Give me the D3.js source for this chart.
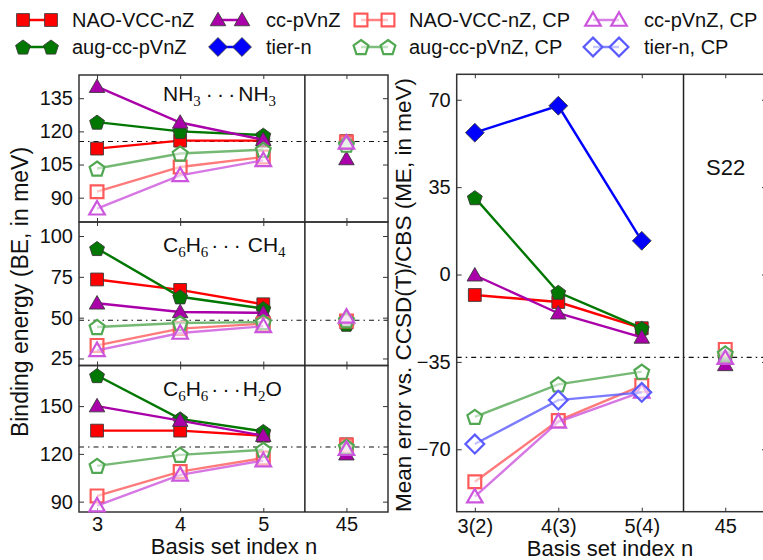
<!DOCTYPE html>
<html><head><meta charset="utf-8">
<script src="https://cdn.jsdelivr.net/npm/d3@7"></script>
<style>body{margin:0;background:#fff}</style>
</head><body><svg id="c" width="763" height="560"></svg>
<script>
// ---------------- data ----------------
const leftCategories = ["3", "4", "5", "45"];
const rightCategories = ["3(2)", "4(3)", "5(4)", "45"];
const seriesNames = ["NAO-VCC-nZ", "aug-cc-pVnZ", "cc-pVnZ", "tier-n",
  "NAO-VCC-nZ, CP", "aug-cc-pVnZ, CP", "cc-pVnZ, CP", "tier-n, CP"];

// NH3···NH3 binding energies (meV)
const nh3Nao    = [112.2, 115.8, 115.8, 115.6];
const nh3Aug    = [124.2, 120.0, 118.3, 115.0];
const nh3Cc     = [140.2, 124.0, 116.2, 107.5];
const nh3NaoCP  = [92.7, 103.9, 108.4, 115.2];
const nh3AugCP  = [103.2, 110.0, 111.7, 114.0];
const nh3CcCP   = [85.0, 100.1, 106.9, 114.8];
const nh3Ref = 115.4;
const nh3Ticks = [90, 105, 120, 135];

// C6H6···CH4
const ch4Nao    = [73.4, 67.0, 58.2, 47.0];
const ch4Aug    = [92.4, 62.8, 55.6, 46.0];
const ch4Cc     = [58.8, 53.5, 53.0, 49.0];
const ch4NaoCP  = [33.0, 43.3, 46.3, 48.0];
const ch4AugCP  = [44.3, 46.7, 47.3, 48.5];
const ch4CcCP   = [30.0, 40.6, 44.7, 50.5];
const ch4Ref = 48.4;
const ch4Ticks = [25, 50, 75, 100];

// C6H6···H2O
const h2oNao    = [134.6, 134.6, 131.4, 126.0];
const h2oAug    = [169.2, 142.0, 134.1, 124.0];
const h2oCc     = [150.0, 140.9, 131.4, 119.8];
const h2oNaoCP  = [93.6, 108.9, 117.4, 125.5];
const h2oAugCP  = [112.5, 119.4, 122.6, 124.5];
const h2oCcCP   = [87.5, 106.8, 115.8, 123.0];
const h2oRef = 124.3;
const h2oTicks = [90, 120, 150];

// S22 mean errors (meV)
const s22Nao    = [-8.2, -11.0, -21.5, -33.5];
const s22Aug    = [30.8, -7.1, -21.5, -33.0];
const s22Cc     = [-0.3, -15.5, -25.2, -36.2];
const s22Tier   = [56.8, 67.6, 13.5, null];
const s22NaoCP  = [-83.0, -58.5, -44.5, -30.0];
const s22AugCP  = [-57.0, -44.0, -38.9, -31.6];
const s22CcCP   = [-89.0, -59.0, -47.0, -33.5];
const s22TierCP = [-67.9, -50.3, -47.2, null];
const s22Ref = -33.2;
const s22Ticks = [-70, -35, 0, 35, 70];

// ---------------- styles ----------------
const FONT = '"Liberation Sans", Arial, Helvetica, sans-serif';
const SERIF = '"Liberation Serif", "DejaVu Serif", serif';
const styles = {
  "NAO-VCC-nZ":       {color: "#ff0000", sym: "square",   open: false},
  "aug-cc-pVnZ":      {color: "#007700", sym: "pentagon", open: false},
  "cc-pVnZ":          {color: "#aa00aa", sym: "triangle", open: false},
  "tier-n":           {color: "#0000ff", sym: "diamond",  open: false},
  "NAO-VCC-nZ, CP":   {color: "#ff5a5a", sym: "square",   open: true},
  "aug-cc-pVnZ, CP":  {color: "#52a852", sym: "pentagon", open: true},
  "cc-pVnZ, CP":      {color: "#cc55dd", sym: "triangle", open: true},
  "tier-n, CP":       {color: "#5a5aff", sym: "diamond",  open: true}
};

function symPath(type) {
  const p = d3.path();
  if (type === "square") {
    const h = 6.4; p.rect(-h, -h, 2 * h, 2 * h);
  } else if (type === "triangle") {
    const w = 15.5, h = 13.5;
    p.moveTo(0, -h / 2 - 1); p.lineTo(w / 2, h / 2 - 1); p.lineTo(-w / 2, h / 2 - 1); p.closePath();
  } else if (type === "pentagon") {
    const r = 7.8;
    for (let k = 0; k < 5; k++) {
      const a = -Math.PI / 2 + k * 2 * Math.PI / 5;
      const px = r * Math.cos(a), py = r * Math.sin(a) + 0.8;
      if (k === 0) p.moveTo(px, py); else p.lineTo(px, py);
    }
    p.closePath();
  } else if (type === "diamond") {
    const h = 9.4;
    p.moveTo(0, -h); p.lineTo(h, 0); p.lineTo(0, h); p.lineTo(-h, 0); p.closePath();
  }
  return p.toString();
}

function drawMarker(g, name, x, y) {
  const st = styles[name];
  const m = g.append("path").attr("d", symPath(st.sym)).attr("transform", `translate(${x},${y})`);
  if (st.open) {
    m.attr("fill", "#fff").attr("fill-opacity", 0.55).attr("stroke", st.color).attr("stroke-width", 2.2);
  } else {
    m.attr("fill", st.color).attr("stroke", "#3a3a3a").attr("stroke-width", 0.9);
  }
}

const svg = d3.select("#c");

// ---------------- legend ----------------
const legendRows = [
  ["NAO-VCC-nZ", "cc-pVnZ", "NAO-VCC-nZ, CP", "cc-pVnZ, CP"],
  ["aug-cc-pVnZ", "tier-n", "aug-cc-pVnZ, CP", "tier-n, CP"]
];
const legM1 = [23, 218, 361, 593];
const legM2 = [51, 242, 388, 619];
const legTx = [72, 266, 409, 644];
const legY = [20, 47];
const lg = svg.append("g");
legendRows.forEach((row, r) => {
  row.forEach((name, c) => {
    const st = styles[name];
    lg.append("line").attr("x1", legM1[c]).attr("x2", legM2[c]).attr("y1", legY[r]).attr("y2", legY[r])
      .attr("stroke", st.color).attr("stroke-width", 2.5).attr("stroke-opacity", st.open ? 0.75 : 1);
    drawMarker(lg, name, legM1[c], legY[r]);
    drawMarker(lg, name, legM2[c], legY[r]);
    lg.append("text").attr("x", legTx[c]).attr("y", legY[r] + 7).attr("font-family", FONT)
      .attr("font-size", 20).attr("fill", "#111").text(name);
  });
});

// ---------------- panels ----------------
const L0 = 79, L1 = 388, R0 = 456.7, R1 = 767;
const DOTS = "\u00B7\u2009\u00B7\u2009\u00B7";
const panels = [
  {x0: L0, x1: L1, y0: 75, y1: 222, domain: [79, 145.5], ticks: nh3Ticks, cats: leftCategories, ref: nh3Ref,
   series: {"NAO-VCC-nZ": nh3Nao, "aug-cc-pVnZ": nh3Aug, "cc-pVnZ": nh3Cc,
            "NAO-VCC-nZ, CP": nh3NaoCP, "aug-cc-pVnZ, CP": nh3AugCP, "cc-pVnZ, CP": nh3CcCP},
   label: [["NH", 0, 0], ["3", 1, 0], [DOTS, 0, 5], ["NH", 0, 3], ["3", 1, 0]], labelX: 163, labelY: 101, showX: false},
  {x0: L0, x1: L1, y0: 222, y1: 365.5, domain: [20.7, 108.6], ticks: ch4Ticks, cats: leftCategories, ref: ch4Ref,
   series: {"NAO-VCC-nZ": ch4Nao, "aug-cc-pVnZ": ch4Aug, "cc-pVnZ": ch4Cc,
            "NAO-VCC-nZ, CP": ch4NaoCP, "aug-cc-pVnZ, CP": ch4AugCP, "cc-pVnZ, CP": ch4CcCP},
   label: [["C", 0, 0], ["6", 1, 0], ["H", 0, 0], ["6", 1, 0], [DOTS, 0, 3], ["CH", 0, 7], ["4", 1, 0]], labelX: 163, labelY: 252, showX: false},
  {x0: L0, x1: L1, y0: 365.5, y1: 512, domain: [83.5, 175.5], ticks: h2oTicks, cats: leftCategories, ref: h2oRef,
   series: {"NAO-VCC-nZ": h2oNao, "aug-cc-pVnZ": h2oAug, "cc-pVnZ": h2oCc,
            "NAO-VCC-nZ, CP": h2oNaoCP, "aug-cc-pVnZ, CP": h2oAugCP, "cc-pVnZ, CP": h2oCcCP},
   label: [["C", 0, 0], ["6", 1, 0], ["H", 0, 0], ["6", 1, 0], [DOTS, 0, 3], ["H", 0, 2], ["2", 1, 0], ["O", 0, 0]], labelX: 163, labelY: 396, showX: true, xlabBase: 531},
  {x0: R0, x1: R1, y0: 74.3, y1: 511.7, domain: [-95.0, 80.2], ticks: s22Ticks, cats: rightCategories, ref: s22Ref,
   series: {"NAO-VCC-nZ": s22Nao, "aug-cc-pVnZ": s22Aug, "cc-pVnZ": s22Cc, "tier-n": s22Tier,
            "NAO-VCC-nZ, CP": s22NaoCP, "aug-cc-pVnZ, CP": s22AugCP, "cc-pVnZ, CP": s22CcCP, "tier-n, CP": s22TierCP},
   label: [["S22", 0, 0]], labelX: 706, labelY: 175, labelSize: 22, showX: true, xlabBase: 533}
];

panels.forEach(P => {
  const g = svg.append("g");
  const x = d3.scaleLinear().domain([-0.217, 3.5]).range([P.x0, P.x1]);
  const y = d3.scaleLinear().domain(P.domain).range([P.y1, P.y0]);

  // reference dash-dot line
  g.append("line").attr("x1", P.x0).attr("x2", Math.min(P.x1, 763)).attr("y1", y(P.ref)).attr("y2", y(P.ref))
    .attr("stroke", "#111").attr("stroke-width", 1.1).attr("stroke-dasharray", "5,4,1.5,4");

  // axes (inside ticks)
  const ya = g.append("g").attr("transform", `translate(${P.x0},0)`)
    .call(d3.axisLeft(y).tickValues(P.ticks).tickSize(-5).tickPadding(6));
  const yr = g.append("g").attr("transform", `translate(${P.x1},0)`)
    .call(d3.axisRight(y).tickValues(P.ticks).tickSize(-5).tickFormat(""));
  const xb = g.append("g").attr("transform", `translate(0,${P.y1})`)
    .call(d3.axisBottom(x).tickValues([0, 1, 2, 3]).tickSize(-4).tickPadding(5)
      .tickFormat(i => P.showX ? P.cats[i] : ""));
  const xt = g.append("g").attr("transform", `translate(0,${P.y0})`)
    .call(d3.axisTop(x).tickValues([0, 1, 2, 3]).tickSize(-4).tickFormat(""));
  [ya, yr, xb, xt].forEach(a => {
    a.select(".domain").remove();
    a.selectAll("line").attr("stroke", "#333").attr("stroke-width", 1);
    a.selectAll("text").attr("font-family", FONT).attr("font-size", 20).attr("fill", "#111");
  });
  if (P.showX) xb.selectAll("text").attr("dy", null).attr("y", P.xlabBase - P.y1);

  // frame and divider
  g.append("rect").attr("x", P.x0).attr("y", P.y0).attr("width", P.x1 - P.x0).attr("height", P.y1 - P.y0)
    .attr("fill", "none").attr("stroke", "#333").attr("stroke-width", 1.5);
  g.append("line").attr("x1", x(2.5)).attr("x2", x(2.5)).attr("y1", P.y0).attr("y2", P.y1)
    .attr("stroke", "#222").attr("stroke-width", 1.5);

  // series
  const line = d3.line().defined(d => d.v != null).x(d => x(d.i)).y(d => y(d.v));
  seriesNames.forEach(name => {
    const vals = P.series[name];
    if (!vals) return;
    const st = styles[name];
    const pts = vals.map((v, i) => ({i, v}));
    g.append("path").datum(pts.slice(0, 3)).attr("d", line).attr("fill", "none")
      .attr("stroke", st.color).attr("stroke-width", 2.4).attr("stroke-opacity", st.open ? 0.8 : 1);
    pts.forEach(d => { if (d.v != null) drawMarker(g, name, x(d.i), y(d.v)); });
  });

  // panel label
  const t = g.append("text").attr("x", P.labelX).attr("y", P.labelY).attr("font-family", FONT)
    .attr("font-size", P.labelSize || 21).attr("fill", "#111");
  let prevSub = false;
  P.label.forEach(([s, sub, dx]) => {
    const ts = t.append("tspan").text(s).attr("dx", dx);
    if (sub) {
      ts.attr("font-family", SERIF).attr("font-size", 15).attr("dy", 5);
    } else {
      ts.attr("dy", prevSub ? -5 : 0);
    }
    prevSub = !!sub;
  });
});

// axis titles
svg.append("text").attr("transform", "translate(28,292) rotate(-90)").attr("text-anchor", "middle")
  .attr("font-family", FONT).attr("font-size", 23).attr("fill", "#111").text("Binding energy (BE, in meV)");
svg.append("text").attr("transform", "translate(411,295) rotate(-90)").attr("text-anchor", "middle")
  .attr("font-family", FONT).attr("font-size", 22.5).attr("fill", "#111").text("Mean error vs. CCSD(T)/CBS (ME, in meV)");
svg.append("text").attr("x", 234).attr("y", 554).attr("text-anchor", "middle")
  .attr("font-family", FONT).attr("font-size", 22).attr("fill", "#111").text("Basis set index n");
svg.append("text").attr("x", 610).attr("y", 556).attr("text-anchor", "middle")
  .attr("font-family", FONT).attr("font-size", 22).attr("fill", "#111").text("Basis set index n");
</script></body></html>
